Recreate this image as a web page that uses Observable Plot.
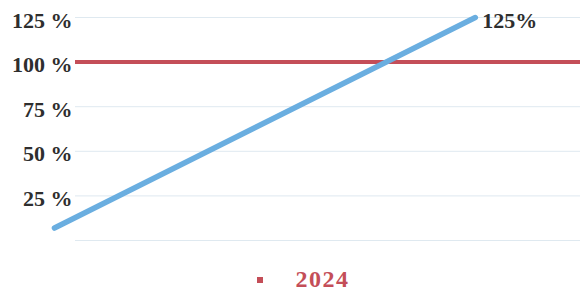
<!DOCTYPE html>
<html>
<head>
<meta charset="utf-8">
<script src="https://cdn.jsdelivr.net/npm/d3@7"></script>
<script src="https://cdn.jsdelivr.net/npm/@observablehq/plot@0.6"></script>
<style>
  html, body { margin: 0; padding: 0; background: #fff; }
  #chart { width: 580px; }
  .legend { height: 31px; display: flex; justify-content: center; align-items: center; padding-top: 8px; box-sizing: border-box; font-family: 'Liberation Serif', 'Times New Roman', Times, serif; font-weight: bold; font-size: 24px; letter-spacing: 1.5px; color: #c44e58; padding-left: 26px; }
  .legend .sw { width: 6px; height: 6px; background: #c44e58; margin-right: 33px; }
</style>
</head>
<body>
<div id="chart"></div>
<script>
const yTicks = [25, 50, 75, 100, 125];
const lineX = [0, 4];
const lineY = [7, 125];
const target = 100;
const seriesName = "2024";
const endLabel = "125%";

const lineData = lineX.map((x, i) => ({x, y: lineY[i]}));

const plot = Plot.plot({
  width: 580,
  height: 260,
  marginLeft: 75,
  marginRight: 0,
  marginTop: 17,
  marginBottom: 20,
  x: {domain: [0.2, 5], axis: null},
  y: {domain: [0, 125], ticks: yTicks},
  style: {fontFamily: "'Liberation Serif', 'Times New Roman', Times, serif", background: "#fff"},
  marks: [
    Plot.gridY(yTicks.concat([0]), {stroke: "#dfe9f0", strokeOpacity: 1, strokeWidth: 1}),
    Plot.axisY(yTicks, {
      tickSize: 0, tickPadding: 0, dx: -3, dy: 3, textAnchor: "end",
      tickFormat: d => d + " %", fontSize: 22, fontWeight: "bold", fill: "#2e2e2e", label: null
    }),
    Plot.ruleY([target], {stroke: "#c44e58", strokeWidth: 4}),
    Plot.line(lineData, {x: "x", y: "y", stroke: "#6aaee0", strokeWidth: 5.5, clip: false}),
    Plot.text([lineData[lineData.length - 1]], {
      x: "x", y: "y", text: () => endLabel, textAnchor: "start", dx: 7, dy: 3,
      fontSize: 22, fontWeight: "bold", fill: "#2e2e2e"
    })
  ]
});
document.getElementById("chart").appendChild(plot);

const legend = document.createElement("div");
legend.className = "legend";
legend.innerHTML = `<span class="sw"></span><span>${seriesName}</span>`;
document.getElementById("chart").appendChild(legend);
</script>
</body>
</html>
